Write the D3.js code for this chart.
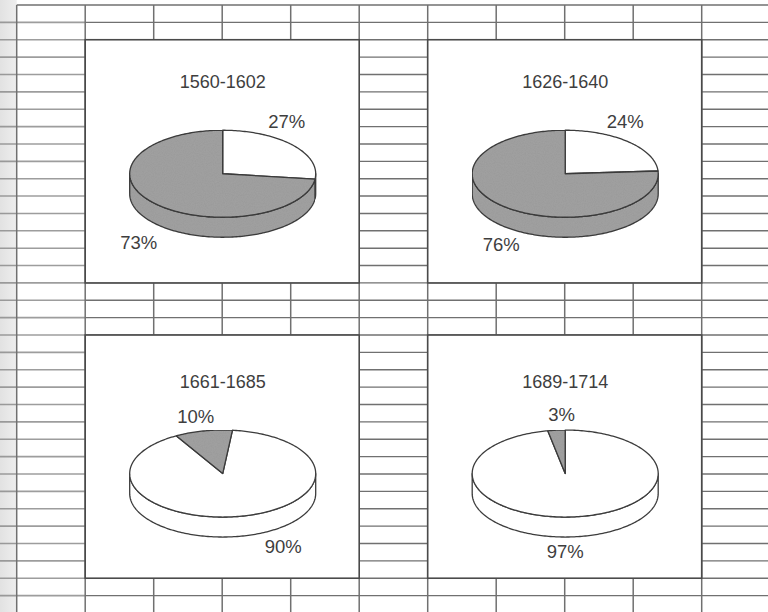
<!DOCTYPE html>
<html>
<head>
<meta charset="utf-8">
<script src="https://cdn.jsdelivr.net/npm/d3@7/dist/d3.min.js"></script>
<style>
  html, body { margin: 0; padding: 0; background: #fff; }
  svg { display: block; }
  text { font-family: "Liberation Sans", Arial, Helvetica, sans-serif; fill: #3e3e3e; }
</style>
</head>
<body>
<svg id="chart" width="768" height="612"></svg>
<script>
// Share of the two groups in each period (percent)
const periods    = ["1560-1602", "1626-1640", "1661-1685", "1689-1714"];
const whiteShare = [27, 24, 90, 97];
const greyShare  = [73, 76, 10, 3];

// ---- layout ----
const W = 768, H = 612;
const svg = d3.select("#chart");

// worksheet grid: 11 column rules, rows every ~17.4px
const xCol = d3.scaleLinear().domain([0, 10]).range([16.7, 701.7]);
const yRow = d3.scaleLinear().domain([0, 35]).range([5, 5 + 17.37 * 35]);

// panel boxes in grid units: [colStart, colEnd, rowStart, rowEnd]
const panelCells = [[1, 5, 2, 16], [6, 10, 2, 16], [1, 5, 19, 33], [6, 10, 19, 33]];
// vertical distance from panel top to the pie's top face centre, per row
const pieDrop = [134, 138.5];
const pieRx = 93, pieRy = 43.5, pieDepth = 20;
// where each pie starts its first slice (degrees clockwise from 12 o'clock)
const pieStart = [0, 0, 6, 0];
// label placement relative to the pie centre: [white label, grey label] as [dx, dy] (baseline)
const labelOffsets = [
  [[64, -45.5], [-84, 75]],
  [[60, -45.7], [-64, 77.7]],
  [[60.5, 79.8], [-27, -50.5]],
  [[0, 84.4], [-3.5, -52.3]]
];
const titleRise = 85.7;

const WHITE = "#ffffff", GREY = "#a3a3a3", INK = "#3c3c3c", RULE = "#707070";

const defs = svg.append("defs");
const gutter = defs.append("linearGradient").attr("id", "gutter").attr("x1", 0).attr("x2", 1);
gutter.append("stop").attr("offset", 0).attr("stop-color", "#e2e2e2");
gutter.append("stop").attr("offset", 1).attr("stop-color", "#eeeeee");
defs.append("filter").attr("id", "soft").append("feGaussianBlur").attr("stdDeviation", 0.7);
// fine grain for the grey fill
const grain = defs.append("filter").attr("id", "grain").attr("x", 0).attr("y", 0).attr("width", 1).attr("height", 1);
grain.append("feTurbulence").attr("type", "fractalNoise").attr("baseFrequency", 0.9).attr("numOctaves", 2).attr("seed", 3).attr("result", "n");
grain.append("feColorMatrix").attr("in", "n").attr("type", "matrix")
  .attr("values", "0 0 0 0 0  0 0 0 0 0  0 0 0 0 0  0 0 0 0.12 0").attr("result", "na");
grain.append("feComposite").attr("in", "na").attr("in2", "SourceGraphic").attr("operator", "in").attr("result", "nc");
const gm = grain.append("feMerge");
gm.append("feMergeNode").attr("in", "SourceGraphic");
gm.append("feMergeNode").attr("in", "nc");

// page
svg.append("rect").attr("width", W).attr("height", H).attr("fill", "#fff");
svg.append("rect").attr("x", 0).attr("y", 0).attr("width", xCol(0)).attr("height", H).attr("fill", "url(#gutter)");

// grid rules
const grid = svg.append("g");
const rows = d3.range(0, 36);
// softer rows inside the left margin column
grid.append("g").attr("filter", "url(#soft)")
  .selectAll("line").data(rows.slice(1)).join("line")
  .attr("x1", 0).attr("x2", xCol(1))
  .attr("y1", d => yRow(d)).attr("y2", d => yRow(d))
  .attr("stroke", "#8c8c8c").attr("stroke-width", 1.6).attr("opacity", 0.85);
grid.append("g")
  .selectAll("line").data(rows).join("line")
  .attr("x1", d => d === 0 ? xCol(0) : xCol(1)).attr("x2", W)
  .attr("y1", d => yRow(d)).attr("y2", d => yRow(d))
  .attr("stroke", RULE).attr("stroke-width", 1.4);
grid.append("g")
  .selectAll("line").data(d3.range(0, 11)).join("line")
  .attr("x1", d => xCol(d)).attr("x2", d => xCol(d))
  .attr("y1", yRow(0)).attr("y2", H)
  .attr("stroke", RULE).attr("stroke-width", 1.5);

// helpers for the tilted pie
const rad = d => d * Math.PI / 180;
const pt = (cx, cy, a) => [cx + pieRx * Math.sin(a), cy - pieRy * Math.cos(a)];
function arcPts(cx, cy, a0, a1) {
  const n = Math.max(2, Math.ceil(Math.abs(a1 - a0) / 0.02));
  return d3.range(n + 1).map(i => pt(cx, cy, a0 + (a1 - a0) * i / n));
}
const line = d3.line();

const pie = d3.pie().sort(null).value(d => d.v);

panelCells.forEach((c, i) => {
  const x0 = xCol(c[0]), x1 = xCol(c[1]), y0 = yRow(c[2]), y1 = yRow(c[3]);
  const g = svg.append("g");
  g.append("rect").attr("x", x0).attr("y", y0).attr("width", x1 - x0).attr("height", y1 - y0)
    .attr("fill", "#fff").attr("stroke", "#4a4a4a").attr("stroke-width", 1.6);

  const cx = (x0 + x1) / 2 + 0.5;
  const cy = y0 + pieDrop[c[2] < 10 ? 0 : 1];

  const slices = pie.startAngle(rad(pieStart[i])).endAngle(rad(pieStart[i] + 360))([
    { v: whiteShare[i], fill: WHITE },
    { v: greyShare[i], fill: GREY }
  ]);

  // visible rim of each slice (front half, 90°..270°)
  slices.forEach(s => {
    for (const shift of [0, -2 * Math.PI]) {
      const a0 = Math.max(s.startAngle + shift, rad(90));
      const a1 = Math.min(s.endAngle + shift, rad(270));
      if (a1 <= a0) continue;
      const top = arcPts(cx, cy, a0, a1);
      const bot = arcPts(cx, cy + pieDepth, a1, a0);
      g.append("path").attr("d", line(top.concat(bot)) + "Z")
        .attr("fill", s.data.fill).attr("filter", s.data.fill === GREY ? "url(#grain)" : null)
        .attr("stroke", INK).attr("stroke-width", 1.3).attr("stroke-linejoin", "round");
    }
  });

  // top faces
  slices.forEach(s => {
    const pts = [[cx, cy]].concat(arcPts(cx, cy, s.startAngle, s.endAngle));
    g.append("path").attr("d", line(pts) + "Z")
      .attr("fill", s.data.fill).attr("filter", s.data.fill === GREY ? "url(#grain)" : null)
      .attr("stroke", INK).attr("stroke-width", 1.3).attr("stroke-linejoin", "round");
  });

  // period title
  g.append("text").attr("x", cx).attr("y", cy - titleRise)
    .attr("text-anchor", "middle").attr("font-size", 18).text(periods[i]);

  // percentage labels
  [whiteShare[i], greyShare[i]].forEach((v, k) => {
    const off = labelOffsets[i][k];
    g.append("text").attr("x", cx + off[0]).attr("y", cy + off[1])
      .attr("text-anchor", "middle").attr("font-size", 18.5).text(v + "%");
  });
});
</script>
</body>
</html>
